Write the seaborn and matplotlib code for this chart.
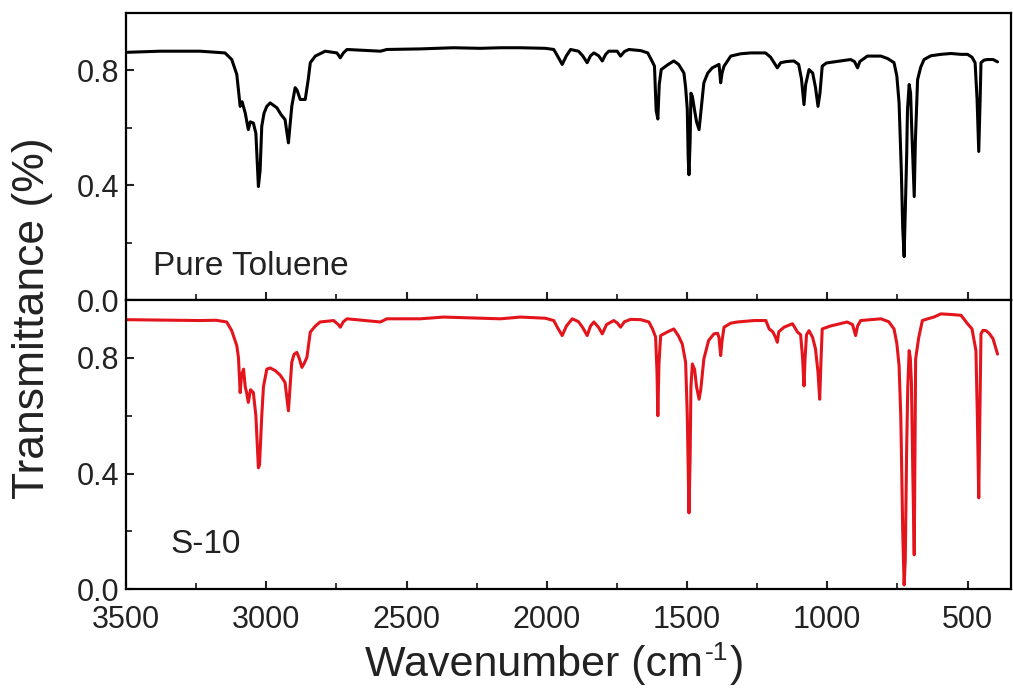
import numpy as np
import pandas as pd
import matplotlib
matplotlib.use("Agg")
import matplotlib.pyplot as plt
import seaborn as sns
from matplotlib.ticker import MultipleLocator

# ---- data ----
tol_wn = [3500, 3379, 3236, 3147, 3123, 3105, 3093, 3086, 3075, 3064, 3057, 3046, 3037, 3028, 3022, 3016,
          3008, 2998, 2986, 2962, 2947, 2933, 2921, 2909, 2897, 2890, 2879, 2861, 2850, 2843, 2825, 2790,
          2748, 2736, 2725, 2712, 2593, 2570, 2451, 2333, 2237, 2165, 2094, 2005, 1975, 1962, 1945, 1930,
          1915, 1887, 1872, 1856, 1844, 1832, 1815, 1802, 1790, 1779, 1749, 1737, 1723, 1707, 1665, 1640,
          1624, 1616, 1610, 1604, 1599, 1592, 1567, 1547, 1530, 1511, 1505, 1499, 1496, 1493, 1489, 1486,
          1481, 1473, 1466, 1457, 1451, 1440, 1426, 1410, 1386, 1383, 1380, 1375, 1368, 1344, 1309, 1273,
          1220, 1202, 1178, 1166, 1145, 1119, 1102, 1092, 1083, 1077, 1065, 1052, 1042, 1033, 1026, 1018,
          1003, 953, 917, 903, 892, 884, 857, 809, 784, 762, 752, 744, 736, 731, 726, 722, 717, 714, 708,
          703, 699, 690, 686, 678, 667, 655, 631, 595, 559, 523, 500, 484, 473, 466, 460, 455, 452, 441,
          428, 409, 393]
tol_t = [0.862, 0.866, 0.866, 0.860, 0.837, 0.785, 0.674, 0.690, 0.651, 0.593, 0.620, 0.616, 0.580, 0.395,
         0.450, 0.605, 0.650, 0.674, 0.686, 0.669, 0.645, 0.628, 0.547, 0.674, 0.739, 0.730, 0.698, 0.698,
         0.770, 0.826, 0.849, 0.866, 0.860, 0.843, 0.860, 0.872, 0.866, 0.872, 0.874, 0.878, 0.876, 0.878,
         0.878, 0.876, 0.872, 0.850, 0.820, 0.850, 0.872, 0.866, 0.850, 0.826, 0.850, 0.860, 0.850, 0.832,
         0.855, 0.866, 0.866, 0.849, 0.865, 0.872, 0.868, 0.860, 0.830, 0.814, 0.660, 0.630, 0.750, 0.802,
         0.820, 0.832, 0.820, 0.790, 0.740, 0.663, 0.500, 0.436, 0.550, 0.720, 0.709, 0.660, 0.620, 0.593,
         0.650, 0.756, 0.790, 0.808, 0.820, 0.790, 0.756, 0.790, 0.814, 0.849, 0.857, 0.860, 0.860, 0.845,
         0.808, 0.826, 0.830, 0.832, 0.820, 0.770, 0.680, 0.750, 0.802, 0.790, 0.740, 0.674, 0.720, 0.814,
         0.825, 0.832, 0.837, 0.830, 0.808, 0.830, 0.849, 0.849, 0.840, 0.826, 0.780, 0.686, 0.450, 0.250,
         0.151, 0.300, 0.500, 0.663, 0.750, 0.720, 0.600, 0.360, 0.550, 0.767, 0.810, 0.837, 0.850, 0.855,
         0.858, 0.855, 0.855, 0.845, 0.826, 0.700, 0.517, 0.700, 0.826, 0.835, 0.837, 0.837, 0.829]

s10_wn = [3500, 3236, 3179, 3141, 3123, 3105, 3099, 3093, 3088, 3081, 3075, 3070, 3064, 3056, 3046, 3037,
          3028, 3024, 3016, 3010, 2998, 2986, 2968, 2950, 2933, 2921, 2915, 2909, 2901, 2891, 2883, 2873,
          2865, 2855, 2843, 2825, 2808, 2760, 2743, 2736, 2725, 2712, 2593, 2570, 2451, 2368, 2237, 2165,
          2094, 2005, 1975, 1962, 1945, 1930, 1909, 1887, 1872, 1856, 1844, 1832, 1815, 1802, 1787, 1761,
          1748, 1737, 1723, 1701, 1665, 1636, 1623, 1612, 1607, 1604, 1600, 1594, 1569, 1547, 1530, 1517,
          1505, 1499, 1493, 1489, 1486, 1481, 1473, 1466, 1457, 1451, 1440, 1423, 1404, 1391, 1386, 1380,
          1375, 1368, 1344, 1320, 1261, 1219, 1207, 1194, 1184, 1178, 1173, 1154, 1124, 1106, 1095, 1088,
          1083, 1079, 1074, 1065, 1052, 1042, 1033, 1027, 1022, 1018, 989, 929, 910, 899, 892, 881, 809,
          781, 762, 752, 744, 738, 736, 731, 726, 722, 717, 713, 708, 704, 700, 695, 690, 688, 685, 674,
          661, 642, 620, 595, 559, 523, 500, 484, 470, 465, 460, 456, 452, 445, 434, 423, 409, 401, 393]
s10_t = [0.932, 0.929, 0.930, 0.924, 0.894, 0.842, 0.800, 0.680, 0.740, 0.761, 0.700, 0.680, 0.646, 0.690,
         0.680, 0.600, 0.420, 0.430, 0.600, 0.700, 0.761, 0.765, 0.756, 0.740, 0.715, 0.617, 0.700, 0.785,
         0.812, 0.819, 0.800, 0.767, 0.780, 0.802, 0.889, 0.910, 0.924, 0.929, 0.915, 0.906, 0.925, 0.935,
         0.924, 0.935, 0.935, 0.941, 0.937, 0.935, 0.941, 0.937, 0.929, 0.905, 0.877, 0.910, 0.935, 0.925,
         0.905, 0.877, 0.910, 0.924, 0.905, 0.883, 0.915, 0.929, 0.920, 0.906, 0.925, 0.933, 0.932, 0.924,
         0.900, 0.872, 0.750, 0.600, 0.780, 0.877, 0.890, 0.900, 0.875, 0.848, 0.785, 0.600, 0.264, 0.450,
         0.700, 0.779, 0.760, 0.700, 0.657, 0.690, 0.796, 0.860, 0.883, 0.885, 0.870, 0.808, 0.860, 0.906,
         0.920, 0.924, 0.929, 0.929, 0.900, 0.890, 0.870, 0.854, 0.890, 0.906, 0.918, 0.889, 0.880, 0.800,
         0.703, 0.800, 0.880, 0.894, 0.870, 0.831, 0.750, 0.657, 0.800, 0.900, 0.910, 0.924, 0.915, 0.877,
         0.910, 0.929, 0.935, 0.925, 0.900, 0.850, 0.773, 0.600, 0.495, 0.200, 0.015, 0.100, 0.484, 0.700,
         0.825, 0.800, 0.715, 0.400, 0.119, 0.400, 0.796, 0.870, 0.929, 0.935, 0.941, 0.952, 0.950, 0.947,
         0.918, 0.900, 0.825, 0.600, 0.316, 0.600, 0.883, 0.895, 0.894, 0.885, 0.866, 0.840, 0.813]

panel_labels = ["Pure Toluene", "S-10"]
y_ticks = [0.0, 0.4, 0.8]
x_ticks = [3500, 3000, 2500, 2000, 1500, 1000, 500]

# ---- style ----
sns.set_theme(style="ticks")
plt.rcParams["font.family"] = ["Liberation Sans", "DejaVu Sans"]

W, H = 1013, 689
fig = plt.figure(figsize=(W / 100, H / 100), dpi=100)
left, right = 126 / W, 1011 / W
y_top, y_mid, y_bot = 1 - 12.7 / H, 1 - 300 / H, 1 - 589.3 / H
ax1 = fig.add_axes([left, y_mid, right - left, y_top - y_mid])
ax2 = fig.add_axes([left, y_bot, right - left, y_mid - y_bot], sharex=ax1)

df1 = pd.DataFrame({"wn": tol_wn, "T": tol_t})
df2 = pd.DataFrame({"wn": s10_wn, "T": s10_t})
sns.lineplot(data=df1, x="wn", y="T", ax=ax1, color="black", lw=2.2, sort=False, estimator=None)
sns.lineplot(data=df2, x="wn", y="T", ax=ax2, color="#e3141b", lw=2.2, sort=False, estimator=None)

txt_col = "#222222"
for ax, lab, lx, ly in [(ax1, panel_labels[0], 0.0305, 0.087), (ax2, panel_labels[1], 0.05, 0.125)]:
    ax.set_xlim(3500, 345)
    ax.set_ylim(0, 1.0)
    ax.set_yticks(y_ticks)
    ax.yaxis.set_minor_locator(MultipleLocator(0.2))
    ax.xaxis.set_minor_locator(MultipleLocator(250))
    ax.set_xlabel("")
    ax.set_ylabel("")
    ax.tick_params(which="major", direction="in", length=6, width=1.5, labelsize=22,
                   top=False, right=False, colors=txt_col)
    ax.tick_params(axis="y", which="major", pad=5)
    ax.tick_params(axis="x", which="major", pad=11)
    ax.tick_params(which="minor", direction="in", length=4, width=1.3, top=False, right=False)
    for sp in ax.spines.values():
        sp.set_linewidth(1.6)
        sp.set_color("black")
        sp.set_visible(True)
    ax.text(lx, ly, lab, transform=ax.transAxes, fontsize=24, color=txt_col,
            ha="left", va="baseline")

ax1.set_yticklabels(["0.0", "0.4", "0.8"])
ax2.set_yticklabels(["0.0", "0.4", "0.8"])
ax2.set_xticks(x_ticks)
ax2.set_xticklabels([str(v) for v in x_ticks])
plt.setp(ax1.get_xticklabels(), visible=False)

fig.text(33 / W, 1 - 318 / H, "Transmittance (%)", rotation=90, fontsize=32,
         ha="center", va="center", color=txt_col)
t1 = fig.text(365 / W, 1 - 676 / H, "Wavenumber (cm", fontsize=31,
              ha="left", va="baseline", color=txt_col)
t2 = fig.text(0, 0, "-1", fontsize=19, color=txt_col, ha="left", va="baseline")
t3 = fig.text(0, 0, ")", fontsize=31, color=txt_col, ha="left", va="baseline")
fig.canvas.draw()
r = fig.canvas.get_renderer()
bb = t1.get_window_extent(r)
t2.set_position(((bb.x1 + 2) / W, (bb.y0 + 0.62 * bb.height) / H))
bb2 = t2.get_window_extent(r)
t3.set_position(((bb2.x1 + 1) / W, 1 - 676 / H))

fig.savefig("out.png", dpi=100, facecolor="white")
